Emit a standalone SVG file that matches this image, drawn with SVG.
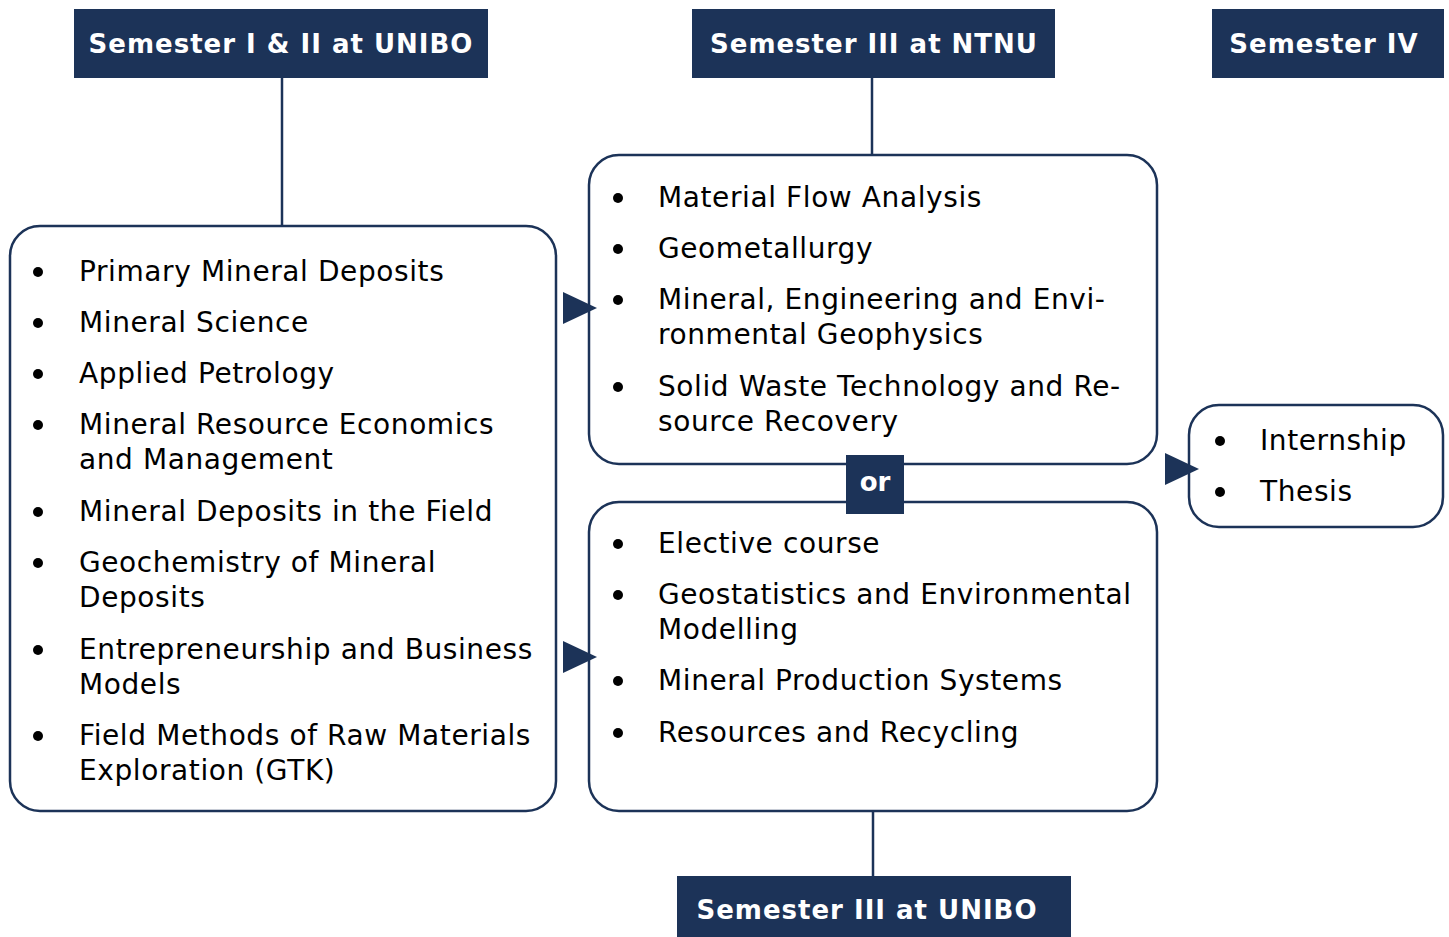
<svg xmlns="http://www.w3.org/2000/svg" width="1449" height="937" viewBox="0 0 1449 937">
<style>
.hdr{fill:#1c3358}
.ht{font-family:"DejaVu Sans",Verdana,sans-serif;font-weight:bold;font-size:26px;fill:#fff;text-anchor:middle;letter-spacing:1px}
.box{fill:#fff;stroke:#1c3358;stroke-width:2.5}
.t{font-family:"DejaVu Sans",Verdana,sans-serif;font-size:28px;fill:#000;letter-spacing:0.6px}
.b{fill:#000}
.ln{stroke:#1c3358;stroke-width:2.5;fill:none}
.ar{fill:#1c3358}
</style>
<g id="connectors">
<line class="ln" x1="282" y1="78" x2="282" y2="226"/>
<line class="ln" x1="872" y1="78" x2="872" y2="155"/>
<line class="ln" x1="873" y1="811" x2="873" y2="876"/>
</g>
<g id="h1"><rect class="hdr" x="74" y="9" width="414" height="69"/><text class="ht" x="281" y="53">Semester I &amp; II at UNIBO</text></g>
<g id="h2"><rect class="hdr" x="692" y="9" width="363" height="69"/><text class="ht" x="874" y="53">Semester III at NTNU</text></g>
<g id="h3"><rect class="hdr" x="1212" y="9" width="232" height="69"/><text class="ht" x="1324" y="53">Semester IV</text></g>
<g id="h4"><rect class="hdr" x="677" y="876" width="394" height="61"/><text class="ht" x="867" y="919">Semester III at UNIBO</text></g>
<g id="left">
<rect class="box" x="10" y="226" width="546" height="585" rx="30"/>
<circle class="b" cx="38" cy="272" r="5"/><text class="t" x="79" y="281">Primary Mineral Deposits</text>
<circle class="b" cx="38" cy="323" r="5"/><text class="t" x="79" y="332">Mineral Science</text>
<circle class="b" cx="38" cy="374" r="5"/><text class="t" x="79" y="383">Applied Petrology</text>
<circle class="b" cx="38" cy="425" r="5"/><text class="t" x="79" y="434">Mineral Resource Economics</text><text class="t" x="79" y="469">and Management</text>
<circle class="b" cx="38" cy="512" r="5"/><text class="t" x="79" y="521">Mineral Deposits in the Field</text>
<circle class="b" cx="38" cy="563" r="5"/><text class="t" x="79" y="572">Geochemistry of Mineral</text><text class="t" x="79" y="607">Deposits</text>
<circle class="b" cx="38" cy="650" r="5"/><text class="t" x="79" y="659">Entrepreneurship and Business</text><text class="t" x="79" y="694">Models</text>
<circle class="b" cx="38" cy="736" r="5"/><text class="t" x="79" y="745">Field Methods of Raw Materials</text><text class="t" x="79" y="780">Exploration (GTK)</text>
</g>
<g id="ntnu">
<rect class="box" x="589" y="155" width="568" height="309" rx="30"/>
<circle class="b" cx="618" cy="198" r="5"/><text class="t" x="658" y="207">Material Flow Analysis</text>
<circle class="b" cx="618" cy="249" r="5"/><text class="t" x="658" y="258">Geometallurgy</text>
<circle class="b" cx="618" cy="300" r="5"/><text class="t" x="658" y="309">Mineral, Engineering and Envi-</text><text class="t" x="658" y="344">ronmental Geophysics</text>
<circle class="b" cx="618" cy="387" r="5"/><text class="t" x="658" y="396">Solid Waste Technology and Re-</text><text class="t" x="658" y="431">source Recovery</text>
</g>
<g id="unibo3">
<rect class="box" x="589" y="502" width="568" height="309" rx="30"/>
<circle class="b" cx="618" cy="544" r="5"/><text class="t" x="658" y="553">Elective course</text>
<circle class="b" cx="618" cy="595" r="5"/><text class="t" x="658" y="604">Geostatistics and Environmental</text><text class="t" x="658" y="639">Modelling</text>
<circle class="b" cx="618" cy="681" r="5"/><text class="t" x="658" y="690">Mineral Production Systems</text>
<circle class="b" cx="618" cy="733" r="5"/><text class="t" x="658" y="742">Resources and Recycling</text>
</g>
<g id="or"><rect class="hdr" x="846" y="455" width="58" height="59"/><text class="ht" x="875" y="491" style="letter-spacing:0">or</text></g>
<g id="sem4">
<rect class="box" x="1189" y="405" width="254" height="122" rx="30"/>
<circle class="b" cx="1220" cy="441" r="5"/><text class="t" x="1260" y="450">Internship</text>
<circle class="b" cx="1220" cy="492" r="5"/><text class="t" x="1260" y="501">Thesis</text>
</g>
<g id="arrows">
<polygon class="ar" points="563,292 597,308 563,324"/>
<polygon class="ar" points="563,641 597,657 563,673"/>
<polygon class="ar" points="1165,453 1199,469 1165,485"/>
</g>
</svg>
